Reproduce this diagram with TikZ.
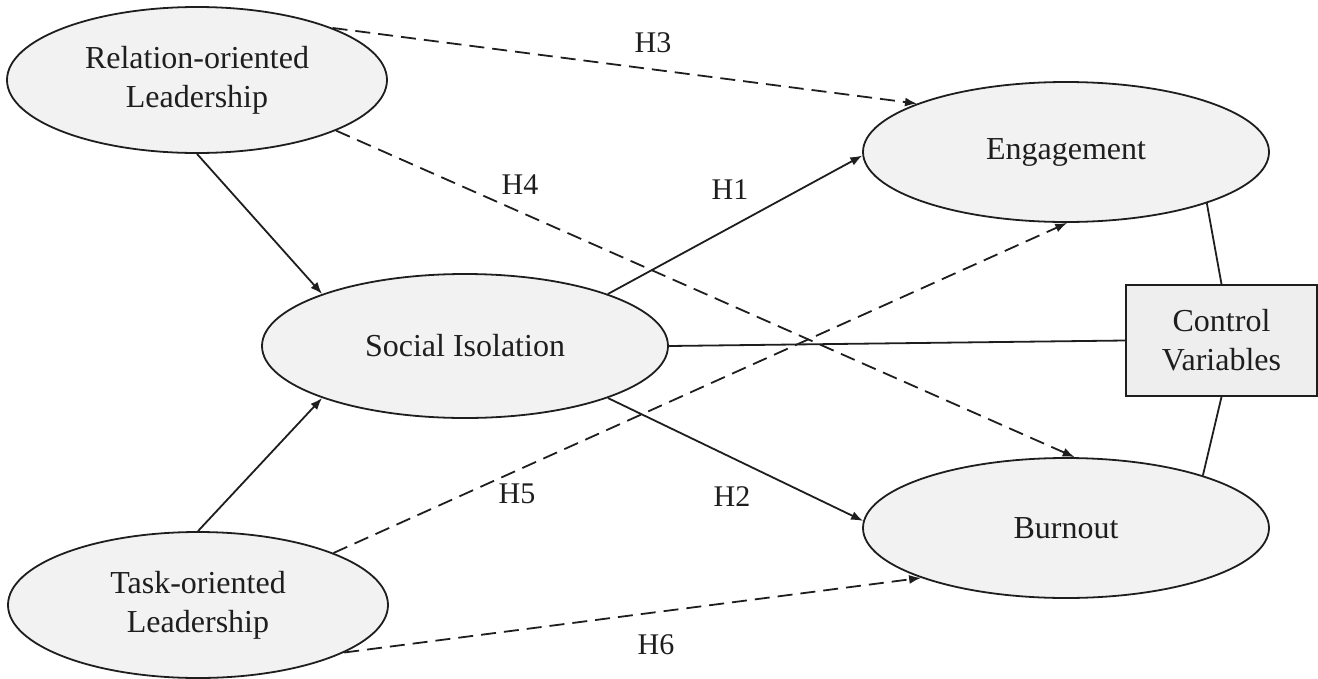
\documentclass[tikz,border=0pt]{standalone}
\usepackage{fontspec}
\setmainfont{Liberation Serif}
\usetikzlibrary{shapes.geometric,arrows.meta}

\definecolor{nodefill}{RGB}{242,242,242}
\definecolor{boxfill}{RGB}{238,238,238}
\definecolor{ink}{RGB}{30,30,30}

\tikzset{
  construct/.style={ellipse, draw=ink, line width=1.8pt, fill=nodefill, inner sep=0pt,
    align=center, text=ink, font=\fontsize{32}{38.8}\selectfont},
  ctrlbox/.style={rectangle, draw=ink, line width=1.8pt, fill=boxfill, inner sep=0pt,
    align=center, text=ink, font=\fontsize{32}{38.8}\selectfont,
    minimum width=191pt, minimum height=111pt},
  link/.style={draw=ink, line width=1.8pt},
  path arrow/.style={link, -{Latex[length=12pt,width=9pt]}},
  indirect/.style={path arrow, dash pattern=on 15pt off 8pt},
  hlabel/.style={text=ink, font=\fontsize{30}{36}\selectfont, inner sep=0pt}
}

\begin{document}
\begin{tikzpicture}[x=1pt,y=-1pt]
  \useasboundingbox (0,0) rectangle (1318,678);

  % constructs
  \node[construct, minimum width=380pt, minimum height=146pt] (rel)  at (197,80)  {Relation-oriented\\Leadership};
  \node[construct, minimum width=380pt, minimum height=146pt] (task) at (198,605) {Task-oriented\\Leadership};
  \node[construct, minimum width=406pt, minimum height=144pt] (si)   at (465,346) {Social Isolation};
  \node[construct, minimum width=406pt, minimum height=140pt] (eng)  at (1066,152) {Engagement};
  \node[construct, minimum width=406pt, minimum height=140pt] (burn) at (1066,528) {Burnout};
  \node[ctrlbox] (ctrl) at (1221.5,340.5) {Control\\Variables};

  % leadership -> social isolation
  \draw[path arrow] (rel.south) -- (si.160);
  \draw[path arrow] (task.north) -- (si.200);

  % direct effects of social isolation
  \draw[path arrow] (si.20) -- (eng.181);
  \draw[path arrow] (si.340) -- (burn.178.5);

  % direct effects of leadership (dashed)
  \draw[indirect] (rel.21) -- (eng.162);
  \draw[indirect] (rel.340) -- (burn.83);
  \draw[indirect] (task.21) -- (eng.271);
  \draw[indirect] (task.342) -- (burn.199);

  % control variables
  \draw[link] (si.east) -- (ctrl.west);
  \draw[link] (eng.340) -- (ctrl.north);
  \draw[link] (burn.21) -- (ctrl.south);

  % hypothesis labels
  \node[hlabel] (h3) at (653,43)  {H3};
  \node[hlabel] (h4) at (520,185) {H4};
  \node[hlabel] (h1) at (730,190) {H1};
  \node[hlabel] (h5) at (517,494) {H5};
  \node[hlabel] (h2) at (732,497) {H2};
  \node[hlabel] (h6) at (656,645) {H6};
\end{tikzpicture}
\end{document}
